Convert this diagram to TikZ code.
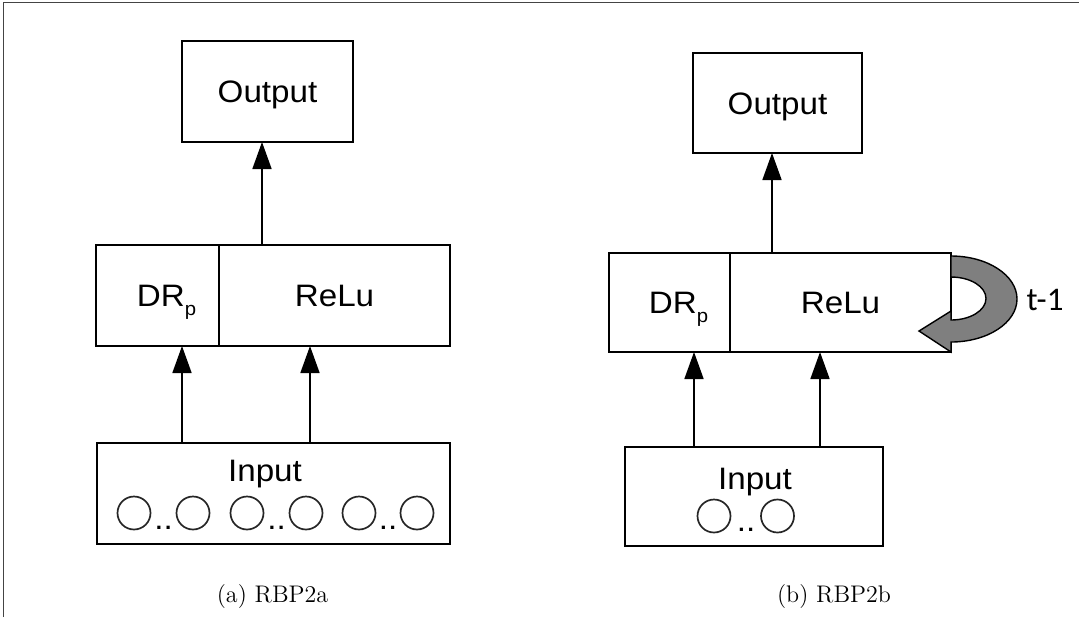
\documentclass[tikz,border=0pt]{standalone}
\usepackage{fontspec}
\newfontfamily\diagfont[FakeStretch=1.07]{Liberation Sans}
\newfontfamily\tfont{Carlito}
\usetikzlibrary{arrows.meta}
\newlength\px
\setlength\px{0.5pt}
\definecolor{loopgray}{HTML}{7F7F7F}
\definecolor{framecol}{HTML}{444444}
\begin{document}
\begin{tikzpicture}[x=0.5pt,y=-0.5pt,
  box/.style={draw=black, line width=0.85pt, inner sep=0pt, outer sep=0pt,
    font={\diagfont\fontsize{15.5pt}{18pt}\selectfont}, text height=11pt, text depth=0pt},
  dtext/.style={inner sep=0pt, anchor=base, font={\diagfont\fontsize{15.5pt}{18pt}\selectfont}},
  unit/.style={circle, draw=black!85, line width=0.85pt, minimum size=33\px, inner sep=0pt},
  arr/.style={line width=0.85pt, -{Triangle[length=13.5pt,width=9.5pt]}},
  loopshape/.style={draw=black, line width=0.7pt, fill=loopgray},
  captext/.style={inner sep=0pt, anchor=base, font={\fontsize{12pt}{14pt}\selectfont}}
]
\useasboundingbox (0,0) rectangle (1079,617);
% frame
\draw[framecol, line width=1.5\px] (3.5,617) -- (3.5,2.5) -- (1079,2.5);

% ---------- (a) ----------
\node[box, minimum width=171\px, minimum height=101\px] (outa) at (267.5,91.5) {Output};
\node[box, minimum width=123\px, minimum height=101\px] (dra) at (157.5,295.5)
  {\hspace*{18\px}DR\raisebox{-4.5pt}{\fontsize{9.5pt}{10pt}\selectfont p}};
\node[box, minimum width=231\px, minimum height=101\px] (relua) at (334.5,295.5) {ReLu};
\node[box, minimum width=353\px, minimum height=101\px] (ina) at (273.5,493.5) {};
\node[dtext] (inta) at (265,481) {Input};
\node[unit] (a1) at (134,513) {};
\node[unit] (a2) at (193,513) {};
\node[unit] (a3) at (247,513) {};
\node[unit] (a4) at (306,513) {};
\node[unit] (a5) at (359,513) {};
\node[unit] (a6) at (417,513) {};
\node[dtext] (da1) at (163.5,529) {..};
\node[dtext] (da2) at (276.5,529) {..};
\node[dtext] (da3) at (388,529) {..};
\coordinate (ca1) at (182,0);
\coordinate (ca2) at (310,0);
\coordinate (ca3) at (262,0);
\draw[arr] (ina.north -| ca1) -- (dra.south -| ca1);
\draw[arr] (ina.north -| ca2) -- (relua.south -| ca2);
\draw[arr] (relua.north -| ca3) -- (outa.south -| ca3);
\node[captext] (capa) at (272.5,602) {(a) RBP2a};

% ---------- (b) ----------
\node[box, minimum width=169\px, minimum height=100\px] (outb) at (777.5,103) {Output};
\node[box, minimum width=121\px, minimum height=99\px] (drb) at (669.5,302.5)
  {\hspace*{18\px}DR\raisebox{-4.5pt}{\fontsize{9.5pt}{10pt}\selectfont p}};
\node[box, minimum width=221\px, minimum height=99\px] (relub) at (840.5,302.5) {ReLu};
\node[box, minimum width=258\px, minimum height=99\px] (inb) at (754,496.5) {};
\node[dtext] (intb) at (755,489) {Input};
\node[unit] (b1) at (714,516) {};
\node[unit] (b2) at (777.5,516) {};
\node[dtext] (db1) at (746,531) {..};
\coordinate (cb1) at (694,0);
\coordinate (cb2) at (820,0);
\coordinate (cb3) at (772,0);
\draw[arr] (inb.north -| cb1) -- (drb.south -| cb1);
\draw[arr] (inb.north -| cb2) -- (relub.south -| cb2);
\draw[arr] (relub.north -| cb3) -- (outb.south -| cb3);
% recurrent loop
\draw[loopshape] (951,256) arc[start angle=90,end angle=-90,x radius=33pt,y radius=21.5pt]
  -- (951,352) -- (919,331) -- (951,311) -- (951,320)
  arc[start angle=-90,end angle=90,x radius=17.5pt,y radius=10.75pt] -- cycle;
\node[inner sep=0pt, anchor=base, font={\tfont\fontsize{16.5pt}{18pt}\selectfont}] (tm1) at (1045,310) {t-1};
\node[captext] (capb) at (834,602) {(b) RBP2b};
\end{tikzpicture}
\end{document}
